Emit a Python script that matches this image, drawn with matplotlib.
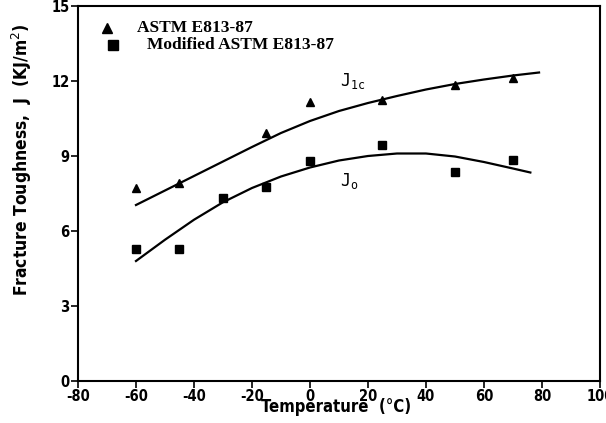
import matplotlib
matplotlib.use("Agg")
import matplotlib.pyplot as plt
from matplotlib import font_manager as fm

# data
temp_astm = [-60, -45, -15, 0, 25, 50, 70]
j_astm = [7.72, 7.92, 9.92, 11.16, 11.26, 11.86, 12.14]
temp_mod = [-60, -45, -30, -15, 0, 25, 50, 70]
j_mod = [5.28, 5.28, 7.32, 7.76, 8.80, 9.44, 8.36, 8.84]

# fitted curves
curve_t_1c = [-60, -50, -40, -30, -20, -10, 0, 10, 20, 30, 40, 50, 60, 70, 79]
curve_j_1c = [7.04, 7.62, 8.20, 8.78, 9.36, 9.92, 10.40, 10.80, 11.12, 11.40, 11.66, 11.88, 12.06, 12.22, 12.34]
curve_t_o = [-60, -50, -40, -30, -20, -10, 0, 10, 20, 30, 40, 50, 60, 70, 76]
curve_j_o = [4.80, 5.65, 6.45, 7.15, 7.72, 8.18, 8.54, 8.82, 9.00, 9.10, 9.10, 8.98, 8.76, 8.50, 8.34]

xticks = [-80, -60, -40, -20, 0, 20, 40, 60, 80, 100]
yticks = [0, 3, 6, 9, 12, 15]

names = {f.name for f in fm.fontManager.ttflist}
cond = 'Liberation Sans Narrow' if 'Liberation Sans Narrow' in names else 'DejaVu Sans'
cond_kw = dict(fontfamily=cond, fontweight='bold', fontstretch='condensed')
serif = 'Liberation Serif'

fig = plt.figure(figsize=(6.06, 4.23), dpi=100)
ax = fig.add_axes([0.1287, 0.0993, 0.8613, 0.8865])

ax.plot(curve_t_1c, curve_j_1c, color='black', lw=1.6)
ax.plot(curve_t_o, curve_j_o, color='black', lw=1.6)
ax.plot(temp_astm, j_astm, '^', color='black', ms=6, ls='none')
ax.plot(temp_mod, j_mod, 's', color='black', ms=5.5, ls='none')

ax.set_xlim(-80, 100)
ax.set_ylim(0, 15)
ax.set_xticks(xticks)
ax.set_yticks(yticks)
ax.set_xticklabels([str(t) for t in xticks], fontsize=10.5, **cond_kw)
ax.set_yticklabels([str(t) for t in yticks], fontsize=10.5, **cond_kw)
ax.tick_params(direction='out', length=5, width=1.2, pad=1)
for s in ax.spines.values():
    s.set_linewidth(1.5)

ax.set_xlabel('Temperature  (°C)', fontsize=12, **cond_kw)
ax.xaxis.set_label_coords(0.494, -0.045)
ax.set_ylabel('Fracture Toughness,  J  (KJ/m$^2$)', fontsize=12.5, **cond_kw)
ax.yaxis.set_label_coords(-0.085, 0.59)

# legend
ax.plot([-70], [14.12], '^', color='black', ms=7, clip_on=False)
ax.text(-59.7, 14.12, 'ASTM E813-87', fontfamily=serif, fontweight='bold', fontsize=12.5, va='center')
ax.plot([-67.9], [13.44], 's', color='black', ms=6.5, clip_on=False)
ax.text(-56.2, 13.44, 'Modified ASTM E813-87', fontfamily=serif, fontweight='bold', fontsize=12.5, va='center')

# curve labels in a typewriter face
ax.text(10.5, 12.0, r'$\mathtt{J}_{\mathtt{1c}}$', fontsize=12, ha='left', va='center')
ax.text(10.5, 8.0, r'$\mathtt{J}_{\mathtt{o}}$', fontsize=12, ha='left', va='center')

fig.savefig('out.png', dpi=100)
